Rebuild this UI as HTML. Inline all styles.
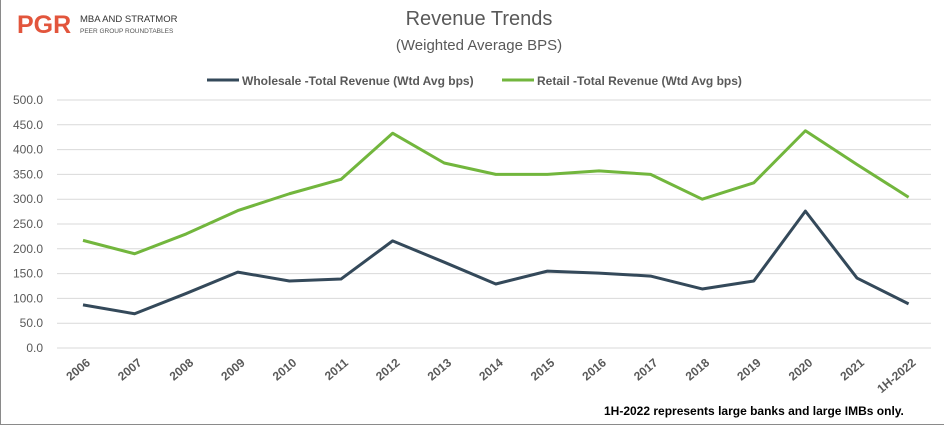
<!DOCTYPE html>
<html><head><meta charset="utf-8"><style>
body{margin:0;background:#fff;font-family:"Liberation Sans",sans-serif}
#wrap{position:relative;width:943px;height:424px;border:1px solid #8a8a8a;border-top:none;border-right:none;overflow:hidden}
</style></head><body>
<div id="wrap">
<svg id="chart" width="945" height="426">
<text x="16" y="33" font-size="25" font-weight="bold" fill="#e2553c" font-family="Liberation Sans">PGR</text>
<text x="79" y="22" font-size="9.5" fill="#333">MBA AND STRATMOR</text>
<text x="79" y="33" font-size="6.5" fill="#555">PEER GROUP ROUNDTABLES</text>
<text x="478" y="25" font-size="20" fill="#595959" text-anchor="middle">Revenue Trends</text>
<text x="478" y="50" font-size="15" fill="#595959" text-anchor="middle">(Weighted Average BPS)</text>
<g>
<line x1="206" y1="80" x2="238" y2="80" stroke="#34495a" stroke-width="3"/>
<text x="241" y="85" font-size="12" font-weight="bold" fill="#595959">Wholesale -Total Revenue (Wtd Avg bps)</text>
<line x1="501" y1="80" x2="533" y2="80" stroke="#72b63d" stroke-width="3"/>
<text x="536" y="85" font-size="12" font-weight="bold" fill="#595959">Retail -Total Revenue (Wtd Avg bps)</text>
</g>
<g id="grid"></g><g id="series"></g><g id="xlab"></g>
<text x="603" y="415" font-size="12" font-weight="bold" fill="#000">1H-2022 represents large banks and large IMBs only.</text>
</svg></div>
<script>
const categories=["2006","2007","2008","2009","2010","2011","2012","2013","2014","2015","2016","2017","2018","2019","2020","2021","1H-2022"];
const wholesale=[87,69,110,153,135,139,216,173,129,155,151,145,119,135,276,141,89];
const retail=[217,190,230,277,311,340,433,373,350,350,357,350,300,333,438,370,304];
const yTicks=[0,50,100,150,200,250,300,350,400,450,500];
const NS="http://www.w3.org/2000/svg";
const y=v=>348-v*0.496;
const x=i=>82+i*51.6;
function mk(t,a,p){const e=document.createElementNS(NS,t);for(const k in a)e.setAttribute(k,a[k]);p.appendChild(e);return e;}
const grid=document.getElementById('grid');
yTicks.forEach(v=>{
 const l=mk('line',{x1:56,x2:930,y1:y(v),y2:y(v),stroke:'#d9d9d9','stroke-width':1},grid);
 
 
 const t=mk('text',{x:42,y:y(v)+4,'font-size':12,fill:'#595959','text-anchor':'end'},grid);
 t.textContent=v.toFixed(1);
 
 
});
const xl=document.getElementById('xlab');
categories.forEach((c,i)=>{
 const t=mk('text',{x:x(i)+8,y:364,'font-size':12,'font-weight':'bold',fill:'#595959','text-anchor':'end',transform:`rotate(-40 ${x(i)+8} 364)`},xl);
 t.textContent=c;
 
 
});
const s=document.getElementById('series');
[[retail,'#72b63d','retail-line'],[wholesale,'#34495a','wholesale-line']].forEach(([d,col,n])=>{
 const p=mk('polyline',{points:d.map((v,i)=>x(i)+','+y(v)).join(' '),fill:'none',stroke:col,'stroke-width':3,'stroke-linejoin':'round'},s);
 
 
});
</script>
</body></html>
